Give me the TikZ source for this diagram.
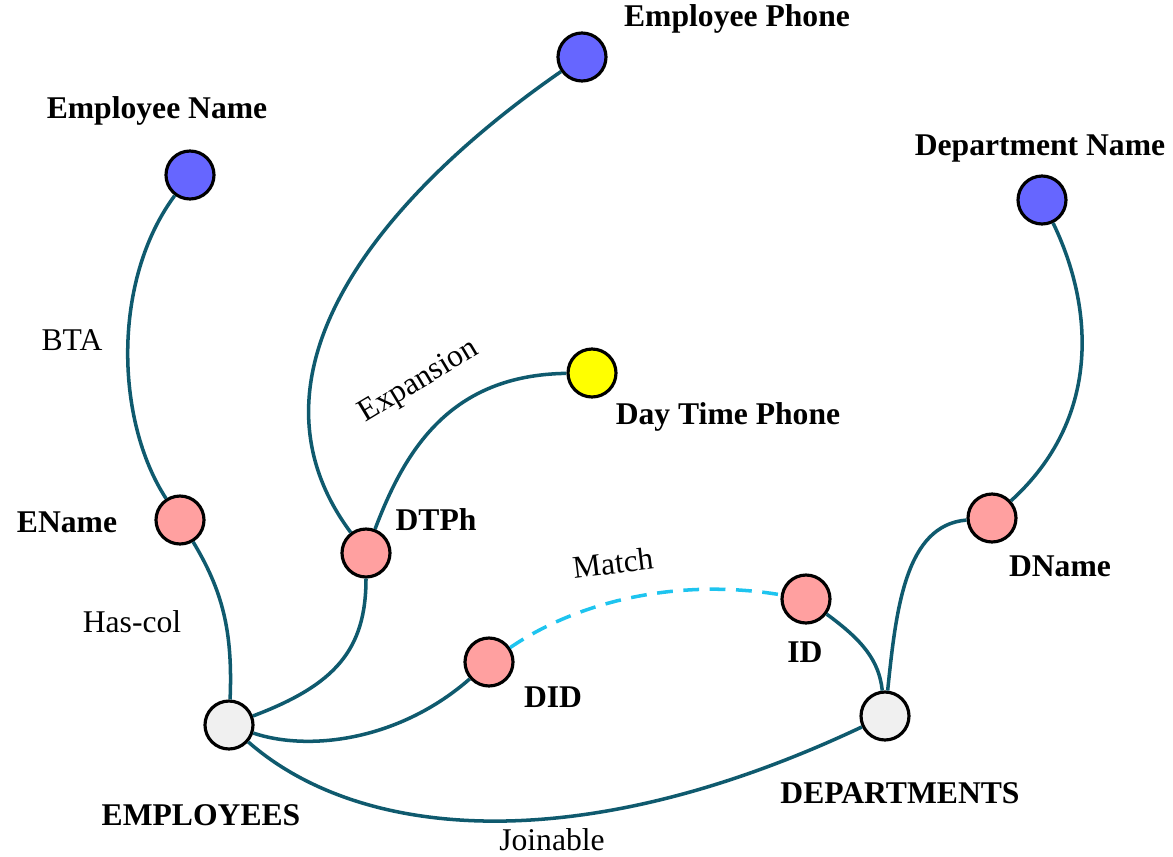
\documentclass[tikz,border=0pt]{standalone}
\usepackage{fontspec}
\setmainfont{Liberation Serif}
\definecolor{edgecol}{HTML}{0F5A6E}
\definecolor{matchcol}{HTML}{1EC4EF}
\definecolor{attrblue}{HTML}{6666FF}
\definecolor{colpink}{HTML}{FFA0A0}
\definecolor{expyellow}{HTML}{FFFF00}
\definecolor{tablegray}{HTML}{F0F0F0}
\tikzset{
  vertex/.style={circle, draw=black, line width=1.8pt, minimum size=0.96cm, inner sep=0pt},
  attr/.style={vertex, fill=attrblue},
  colnode/.style={vertex, fill=colpink},
  expnode/.style={vertex, fill=expyellow},
  tablenode/.style={vertex, fill=tablegray},
  vlabel/.style={font=\fontsize{18}{21}\selectfont\bfseries, inner sep=0pt},
  rel/.style={font=\fontsize{18}{21}\selectfont, inner sep=0pt},
  link/.style={draw=edgecol, line width=2pt},
  matchlink/.style={draw=matchcol, line width=2pt, dash pattern=on 9pt off 6pt}
}
\begin{document}
\begin{tikzpicture}[x=0.02cm, y=-0.02cm]
\useasboundingbox (0,0) rectangle (1173,856);

% edges (drawn first so the circles sit on top)
\coordinate (pempname) at (190,175);
\coordinate (pempphone) at (582,57);
\coordinate (pdeptname) at (1042,200);
\coordinate (pdaytime) at (592,373);
\coordinate (pename) at (180,520);
\coordinate (pdtph) at (366,553);
\coordinate (pdname) at (992,518);
\coordinate (pid) at (806,599);
\coordinate (pdid) at (489,662);
\coordinate (pemp) at (229,725);
\coordinate (pdept) at (885,716);

% vertices
\node[attr] (empname) at (pempname) {};
\node[attr] (empphone) at (pempphone) {};
\node[attr] (deptname) at (pdeptname) {};
\node[expnode] (daytime) at (pdaytime) {};
\node[colnode] (ename) at (pename) {};
\node[colnode] (dtph) at (pdtph) {};
\node[colnode] (dname) at (pdname) {};
\node[colnode] (id) at (pid) {};
\node[colnode] (did) at (pdid) {};
\node[tablenode] (emp) at (pemp) {};
\node[tablenode] (dept) at (pdept) {};

% connectors
\draw[link] (empname) .. controls (112,280) and (115,420) .. (ename);
\draw[link] (ename) .. controls (222,590) and (233,630) .. (emp);
\draw[link] (empphone) .. controls (390,190) and (230,370) .. (dtph);
\draw[link] (dtph) .. controls (405,450) and (450,375) .. (daytime);
\draw[link] (dtph) .. controls (366,650) and (335,685) .. (emp);
\draw[link] (emp) .. controls (310,752) and (400,740) .. (did);
\draw[link] (emp) .. controls (360,840) and (580,860) .. (dept);
\draw[link] (id) .. controls (862,640) and (879,660) .. (dept);
\draw[link] (dname) .. controls (905,525) and (896,610) .. (dept);
\draw[link] (deptname) .. controls (1095,310) and (1100,420) .. (dname);
\draw[matchlink] (did) .. controls (580,600) and (680,578) .. (id);

% vertex names
\node[vlabel] (lempname) at (157,111) {Employee Name};
\node[vlabel] (lempphone) at (737,19) {Employee Phone};
\node[vlabel] (ldeptname) at (1040,149) {Department Name};
\node[vlabel] (ldaytime) at (728,417) {Day Time Phone};
\node[vlabel] (lename) at (67,522) {EName};
\node[vlabel] (ldtph) at (436,520) {DTPh};
\node[vlabel] (ldname) at (1060,566) {DName};
\node[vlabel] (lid) at (805,652) {ID};
\node[vlabel] (ldid) at (553,697) {DID};
\node[vlabel] (lemp) at (201,815) {EMPLOYEES};
\node[vlabel] (ldept) at (900,793) {DEPARTMENTS};

% connector labels
\node[rel] (lbta) at (72,340) {BTA};
\node[rel, rotate=31] (lexp) at (419,382) {Expansion};
\node[rel] (lhascol) at (132,622) {Has-col};
\node[rel, rotate=7] (lmatch) at (613,563) {Match};
\node[rel] (ljoin) at (552,840) {Joinable};
\end{tikzpicture}
\end{document}
